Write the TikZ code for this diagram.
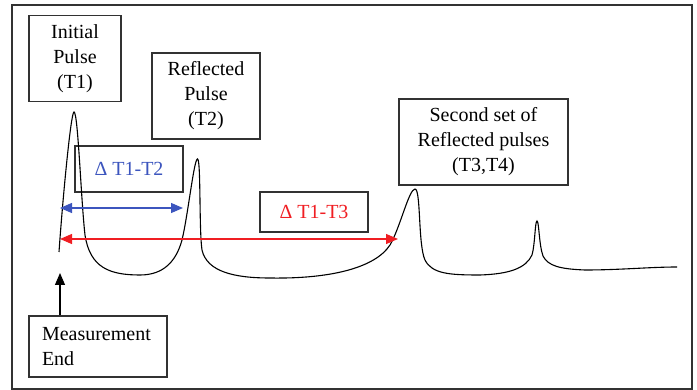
\documentclass[tikz,border=0pt]{standalone}
\usepackage{fontspec}
\setmainfont{Liberation Serif}
\usetikzlibrary{arrows.meta}
\definecolor{dblue}{RGB}{60,85,190}
\definecolor{dred}{RGB}{240,30,35}
\definecolor{frame}{RGB}{50,50,50}
\tikzset{
  lbl/.style={draw=frame, line width=1.2pt, align=center, inner sep=0pt,
    font=\fontsize{20}{25}\selectfont},
  curve/.style={line width=1.1pt, black},
  tri/.style={-{Triangle[length=12pt,width=10pt]}},
  dtri/.style={{Triangle[length=12pt,width=10pt]}-{Triangle[length=12pt,width=10pt]}}
}
\begin{document}
\begin{tikzpicture}[x=1pt,y=-1pt]
\useasboundingbox (0,0) rectangle (697,390);
\draw[frame, line width=1.4pt] (12,5) rectangle (692,389);

\node[lbl, minimum width=92pt, minimum height=86pt] (init) at (75,58.7) {Initial\\Pulse\\(T1)};
\node[lbl, minimum width=108pt, minimum height=86pt] (refl) at (206,96) {Reflected\\Pulse\\(T2)};
\node[lbl, minimum width=169pt, minimum height=86pt] (second) at (483.5,142) {Second set of\\Reflected pulses\\(T3,T4)};
\node[lbl, minimum width=108pt, minimum height=46pt, text=dblue] (d12) at (129,169) {Δ T1-T2};
\node[lbl, minimum width=108pt, minimum height=40pt, text=dred] (d13) at (314,212) {Δ T1-T3};
\node[lbl, minimum width=138pt, minimum height=61pt, text width=112pt, inner xsep=13pt, align=left] (meas) at (98,346.5) {Measurement\\End};

% waveform
\draw[curve] (59,252) .. controls (63,195) and (71,112) .. (74,112)
  .. controls (78,112) and (81,200) .. (85,235)
  .. controls (90,268) and (110,275) .. (140,275)
  .. controls (163,275) and (176,262) .. (182,240)
  .. controls (188,215) and (194,159) .. (197.5,159)
  .. controls (201,159) and (199,230) .. (202,250)
  .. controls (207,272) and (235,278) .. (270,278)
  .. controls (330,279) and (375,268) .. (390,245)
  .. controls (400,228) and (409,189) .. (415,189)
  .. controls (421,189) and (418,245) .. (425,260)
  .. controls (432,274) and (450,275) .. (480,275)
  .. controls (510,274) and (526,268) .. (532,255)
  .. controls (535,245) and (535,221) .. (537,221)
  .. controls (539,221) and (539,245) .. (543,256)
  .. controls (548,266) and (560,269) .. (585,270)
  .. controls (620,270) and (650,267) .. (677,267);

\coordinate (mtip) at (60,273);
\coordinate (b1) at (60,208);
\coordinate (b2) at (183,208);
\coordinate (r1) at (60,239);
\coordinate (r2) at (398,239);

\draw[tri, line width=1.2pt, black] (meas.north -| mtip) -- (mtip);
\draw[dtri, line width=1.2pt, dblue] (b1) -- (b2);
\draw[dtri, line width=1.2pt, dred] (r1) -- (r2);
\end{tikzpicture}
\end{document}
